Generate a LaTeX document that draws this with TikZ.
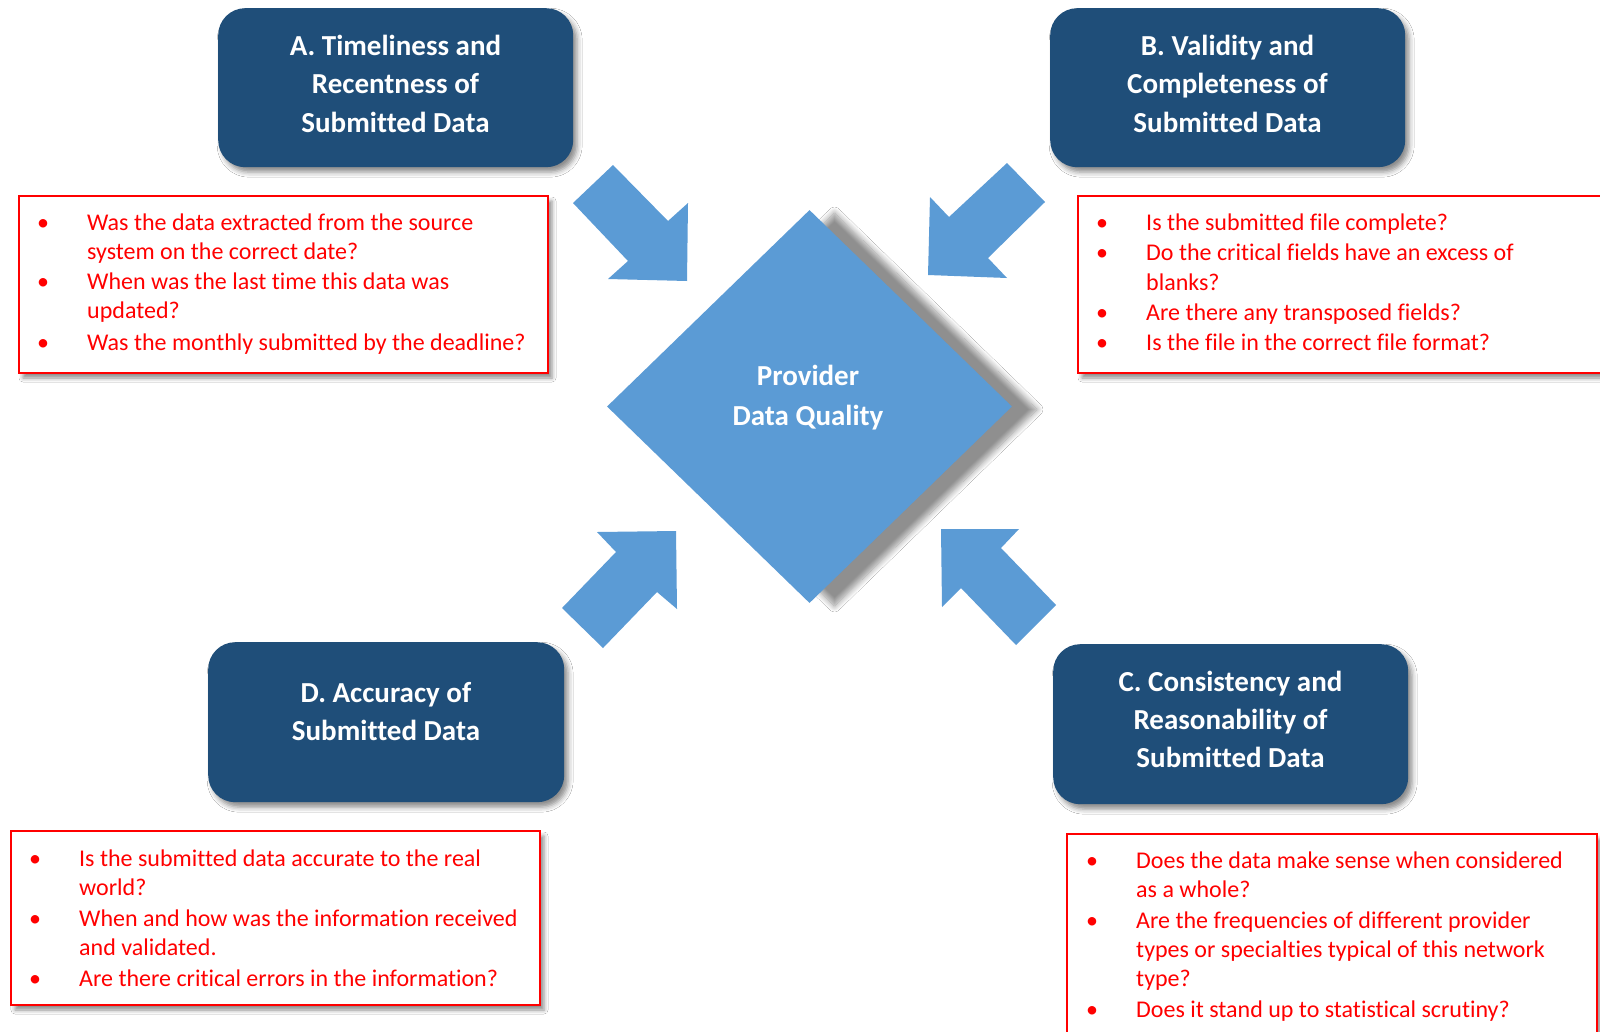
\documentclass[tikz,border=0pt]{standalone}
\usepackage{fontspec}
\setmainfont{Carlito}[Ligatures=NoCommon]
\usetikzlibrary{shapes.geometric,shadows.blur}
\definecolor{darkbox}{HTML}{1F4E79}
\definecolor{accent}{HTML}{5B9BD5}
\definecolor{listred}{HTML}{FF0000}
\tikzset{
  titlebox/.style={fill=darkbox, draw=none, rounded corners=27pt, inner sep=0pt, anchor=north west,
    blur shadow={shadow xshift=4pt, shadow yshift=-5pt, shadow blur radius=5pt, shadow opacity=45}},
  listbox/.style={draw=listred, line width=2pt, fill=white, inner sep=0pt, anchor=north west,
    blur shadow={shadow xshift=4pt, shadow yshift=-5pt, shadow blur radius=4pt, shadow opacity=45}},
  titletext/.style={text=white, font=\fontsize{29}{38}\selectfont\bfseries, anchor=base, inner sep=0pt},
  itemtext/.style={text=listred, font=\fontsize{24}{29}\selectfont, anchor=base west, inner sep=0pt},
  bulletmark/.style={text=listred, font=\fontsize{24}{29}\selectfont, anchor=base, inner sep=0pt},
  blockarrow/.style={fill=accent, draw=none},
}
\begin{document}
\begin{tikzpicture}[x=1pt,y=-1pt]
\useasboundingbox[fill=white] (0,0) rectangle (1600,1031);

% central diamond
\node[diamond, fill=accent, draw=none, minimum width=405pt, minimum height=393pt, inner sep=0pt,
  blur shadow={shadow xshift=25pt, shadow yshift=-3pt, shadow blur radius=6pt, shadow opacity=44, shadow blur steps=10}]
  (pdq) at (809.5,406.5) {};
\node[titletext] (pdq1) at (808,385) {Provider};
\node[titletext] (pdq2) at (808,425) {Data Quality};

% block arrows
\path[blockarrow] (573,203) -- (613,165) -- (668,221) -- (688,203) -- (687,281) -- (608,279) -- (628,261) -- cycle;
\path[blockarrow] (1007,163) -- (1045,202) -- (988,258) -- (1007,278) -- (928,275) -- (930,197) -- (949,217) -- cycle;
\path[blockarrow] (676,531) -- (597,532) -- (616,552) -- (562,608) -- (603,648) -- (657,592) -- (677,609) -- cycle;
\path[blockarrow] (941,529) -- (1019,529) -- (1001,548) -- (1056,605) -- (1016,645) -- (961,588) -- (942,607) -- cycle;

% title boxes
\node[titlebox, minimum width=355pt, minimum height=159pt] (boxA) at (218,8) {};
\node[titlebox, minimum width=355pt, minimum height=159pt] (boxB) at (1050,8) {};
\node[titlebox, minimum width=356pt, minimum height=160pt] (boxD) at (208,642) {};
\node[titlebox, minimum width=355pt, minimum height=160pt] (boxC) at (1053,644) {};

\node[titletext] (tA1) at (395.5,55) {A. Timeliness and};
\node[titletext] (tA2) at (395.5,93) {Recentness of};
\node[titletext] (tA3) at (395.5,132) {Submitted Data};

\node[titletext] (tB1) at (1227.5,55) {B. Validity and};
\node[titletext] (tB2) at (1227.5,93) {Completeness of};
\node[titletext] (tB3) at (1227.5,132) {Submitted Data};

\node[titletext] (tD1) at (386,702) {D. Accuracy of};
\node[titletext] (tD2) at (386,740) {Submitted Data};

\node[titletext] (tC1) at (1230.5,691) {C. Consistency and};
\node[titletext] (tC2) at (1230.5,729) {Reasonability of};
\node[titletext] (tC3) at (1230.5,767.5) {Submitted Data};

% list boxes
\node[listbox, minimum width=529pt, minimum height=177pt] (listA) at (18,195) {};
\node[listbox, minimum width=560pt, minimum height=177pt] (listB) at (1077,195) {};
\node[listbox, minimum width=529pt, minimum height=174pt] (listD) at (10,830) {};
\node[listbox, minimum width=530pt, minimum height=230pt] (listC) at (1066,833) {};

% list A
\node[bulletmark] (bA1) at (43,230) {•};
\node[bulletmark] (bA2) at (43,289) {•};
\node[bulletmark] (bA3) at (43,350) {•};
\node[itemtext] (lA1) at (87,230) {Was the data extracted from the source};
\node[itemtext] (lA2) at (87,259) {system on the correct date?};
\node[itemtext] (lA3) at (87,289) {When was the last time this data was};
\node[itemtext] (lA4) at (87,318) {updated?};
\node[itemtext] (lA5) at (87,350) {Was the monthly submitted by the deadline?};

% list B
\node[bulletmark] (bB1) at (1102,230) {•};
\node[bulletmark] (bB2) at (1102,260) {•};
\node[bulletmark] (bB3) at (1102,320) {•};
\node[bulletmark] (bB4) at (1102,350) {•};
\node[itemtext] (lB1) at (1146,230) {Is the submitted file complete?};
\node[itemtext] (lB2) at (1146,260) {Do the critical fields have an excess of};
\node[itemtext] (lB3) at (1146,290) {blanks?};
\node[itemtext] (lB4) at (1146,320) {Are there any transposed fields?};
\node[itemtext] (lB5) at (1146,350) {Is the file in the correct file format?};

% list D
\node[bulletmark] (bD1) at (35,866) {•};
\node[bulletmark] (bD2) at (35,926) {•};
\node[bulletmark] (bD3) at (35,986) {•};
\node[itemtext] (lD1) at (79,866) {Is the submitted data accurate to the real};
\node[itemtext] (lD2) at (79,895) {world?};
\node[itemtext] (lD3) at (79,926) {When and how was the information received};
\node[itemtext] (lD4) at (79,955) {and validated.};
\node[itemtext] (lD5) at (79,986) {Are there critical errors in the information?};

% list C
\node[bulletmark] (bC1) at (1092,868) {•};
\node[bulletmark] (bC2) at (1092,928) {•};
\node[bulletmark] (bC3) at (1092,1017) {•};
\node[itemtext] (lC1) at (1136,868) {Does the data make sense when considered};
\node[itemtext] (lC2) at (1136,897) {as a whole?};
\node[itemtext] (lC3) at (1136,928) {Are the frequencies of different provider};
\node[itemtext] (lC4) at (1136,957) {types or specialties typical of this network};
\node[itemtext] (lC5) at (1136,986) {type?};
\node[itemtext] (lC6) at (1136,1017) {Does it stand up to statistical scrutiny?};
\end{tikzpicture}
\end{document}
